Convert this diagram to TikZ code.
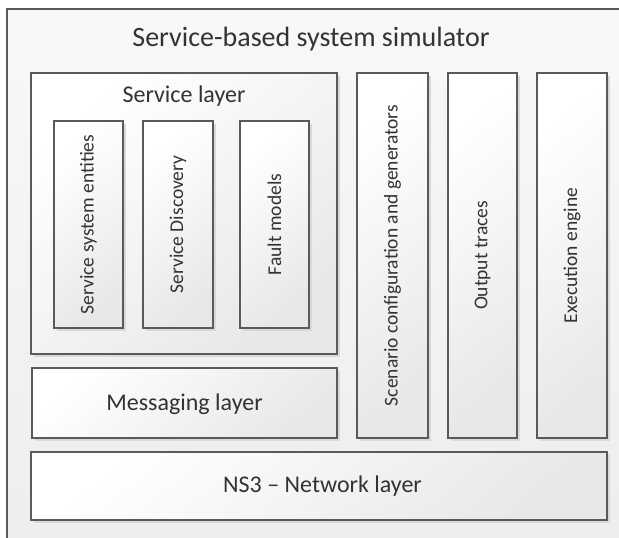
\documentclass[tikz,border=0pt]{standalone}
\usepackage{fontspec}
\setmainfont{Carlito}
\usetikzlibrary{shadows}

\definecolor{edge}{HTML}{5A5A5A}
\definecolor{ink}{HTML}{333333}
\definecolor{shadowgray}{HTML}{D9D9D9}
\definecolor{boxlo}{HTML}{E8E8E8}
\definecolor{panelhi}{HTML}{F8F8F8}
\definecolor{panello}{HTML}{EDEDED}

\begin{document}
\begin{tikzpicture}[x=1pt,y=-1pt,
  block/.style={draw=edge, line width=1.3pt, inner sep=0pt, outer sep=0pt,
    top color=white, bottom color=boxlo, shading angle=40,
    drop shadow={shadow xshift=2.5pt, shadow yshift=-2.5pt, fill=shadowgray, opacity=1}},
  panel/.style={draw=edge, line width=1.3pt, top color=panelhi, bottom color=panello},
  caption/.style={text=ink, inner sep=0pt, anchor=base},
  titletext/.style={caption, font=\fontsize{28}{32}\selectfont},
  layertext/.style={caption, font=\fontsize{24}{28}\selectfont},
  sidetext/.style={text=ink, inner sep=0pt, rotate=90, font=\fontsize{19.5}{22}\selectfont}]

  \useasboundingbox (0,0) rectangle (619,538);
  \clip (0,0) rectangle (619,538);
  \fill[white] (0,0) rectangle (619,538);

  % outer frame of the simulator (runs past the right and bottom edges)
  \draw[panel] (7,9) rectangle (650,570);
  \node[titletext] (title) at (311,46) {Service-based system simulator};

  % service layer and its components
  \node[block, minimum width=306pt, minimum height=281pt] (svc) at (184,213.5) {};
  \node[layertext] (svclabel) at (184,102) {Service layer};

  \node[block, minimum width=69pt, minimum height=207pt] (entities) at (88.5,224.5) {};
  \node[block, minimum width=70pt, minimum height=207pt] (discovery) at (178,224.5) {};
  \node[block, minimum width=69pt, minimum height=207pt] (fault) at (274.5,224.5) {};
  \node[sidetext] (entitieslabel) at (entities.center) {Service system entities};
  \node[sidetext] (discoverylabel) at (discovery.center) {Service Discovery};
  \node[sidetext] (faultlabel) at (fault.center) {Fault models};

  % messaging layer
  \node[block, minimum width=305pt, minimum height=70pt] (msg) at (184.5,403) {};
  \node[layertext] (msglabel) at (184.5,410) {Messaging layer};

  % vertical cross-cutting modules
  \node[block, minimum width=71pt, minimum height=365pt] (scenario) at (392.5,255.5) {};
  \node[block, minimum width=69pt, minimum height=365pt] (traces) at (482.5,255.5) {};
  \node[block, minimum width=70pt, minimum height=365pt] (engine) at (572,255.5) {};
  \node[sidetext] (scenariolabel) at (scenario.center) {Scenario configuration and generators};
  \node[sidetext] (traceslabel) at (traces.center) {Output traces};
  \node[sidetext] (enginelabel) at (engine.center) {Execution engine};

  % network layer
  \node[block, minimum width=576pt, minimum height=68pt] (ns3) at (319,486) {};
  \node[layertext] (ns3label) at (322.5,492) {NS3 – Network layer};
\end{tikzpicture}
\end{document}
